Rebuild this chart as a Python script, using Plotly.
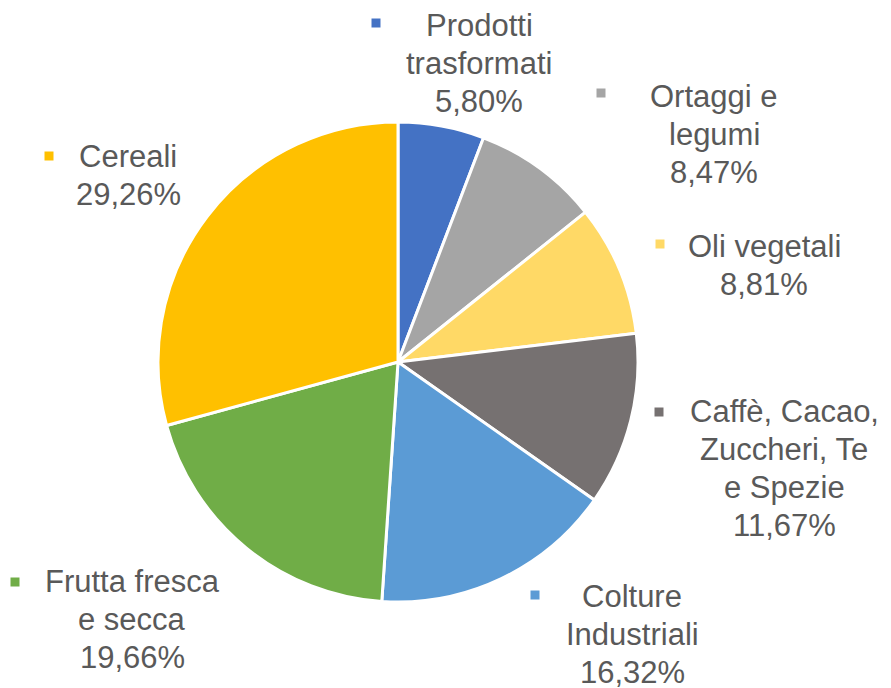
import plotly.graph_objects as go

categories = ["Prodotti trasformati", "Ortaggi e legumi", "Oli vegetali",
              "Caffè, Cacao, Zuccheri, Te e Spezie", "Colture Industriali",
              "Frutta fresca e secca", "Cereali"]
label_lines = [["Prodotti", "trasformati"], ["Ortaggi e", "legumi"], ["Oli vegetali"],
               ["Caffè, Cacao,", "Zuccheri, Te", "e Spezie"], ["Colture", "Industriali"],
               ["Frutta fresca", "e secca"], ["Cereali"]]
values = [5.80, 8.47, 8.81, 11.67, 16.32, 19.66, 29.26]
value_labels = ["5,80%", "8,47%", "8,81%", "11,67%", "16,32%", "19,66%", "29,26%"]
colors = ["#4472C4", "#A5A5A5", "#FFD966", "#767171", "#5B9BD5", "#70AD47", "#FFC000"]

W, H = 891, 688
OFF = 8  # page body margin
# label x-centre and first-line baseline (screen px), legend-key centres (screen px)
text_pos = [(479, 36), (714, 107), (764, 257), (784, 422), (632, 607), (132, 592), (128, 167)]
key_pos = [(376, 23), (601, 93), (660, 244), (659, 412), (535, 595), (15, 582), (49, 156)]
LINE = 38
FS = 31

cx, cy, r = 398 - OFF, 362 - OFF, 240

fig = go.Figure(go.Pie(
    labels=categories, values=values, sort=False, direction="clockwise", rotation=0,
    marker=dict(colors=colors, line=dict(color="white", width=3)),
    textinfo="none", hoverinfo="label+percent", showlegend=False,
    domain=dict(x=[(cx - r) / W, (cx + r) / W], y=[1 - (cy + r) / H, 1 - (cy - r) / H]),
))

annotations = []
shapes = []
for lines, vl, col, (tx, ty), (kx, ky) in zip(label_lines, value_labels, colors, text_pos, key_pos):
    for i, ln in enumerate(lines + [vl]):
        yb = ty + i * LINE - 10.5 - OFF
        annotations.append(dict(
            text=ln, x=(tx - OFF) / W, y=1 - yb / H, xref="paper", yref="paper",
            xanchor="center", yanchor="middle", showarrow=False, align="center",
            font=dict(family="Liberation Sans, Arial, sans-serif", size=FS, color="#595959"),
        ))
    s = 4.5
    kx -= OFF
    ky -= OFF
    shapes.append(dict(type="rect", xref="paper", yref="paper",
                       x0=(kx - s) / W, x1=(kx + s) / W, y0=1 - (ky + s) / H, y1=1 - (ky - s) / H,
                       fillcolor=col, line=dict(width=0)))

fig.update_layout(
    width=W, height=H, margin=dict(l=0, r=0, t=0, b=0),
    paper_bgcolor="white", plot_bgcolor="white",
    annotations=annotations, shapes=shapes,
)
fig.write_html("out.html")
